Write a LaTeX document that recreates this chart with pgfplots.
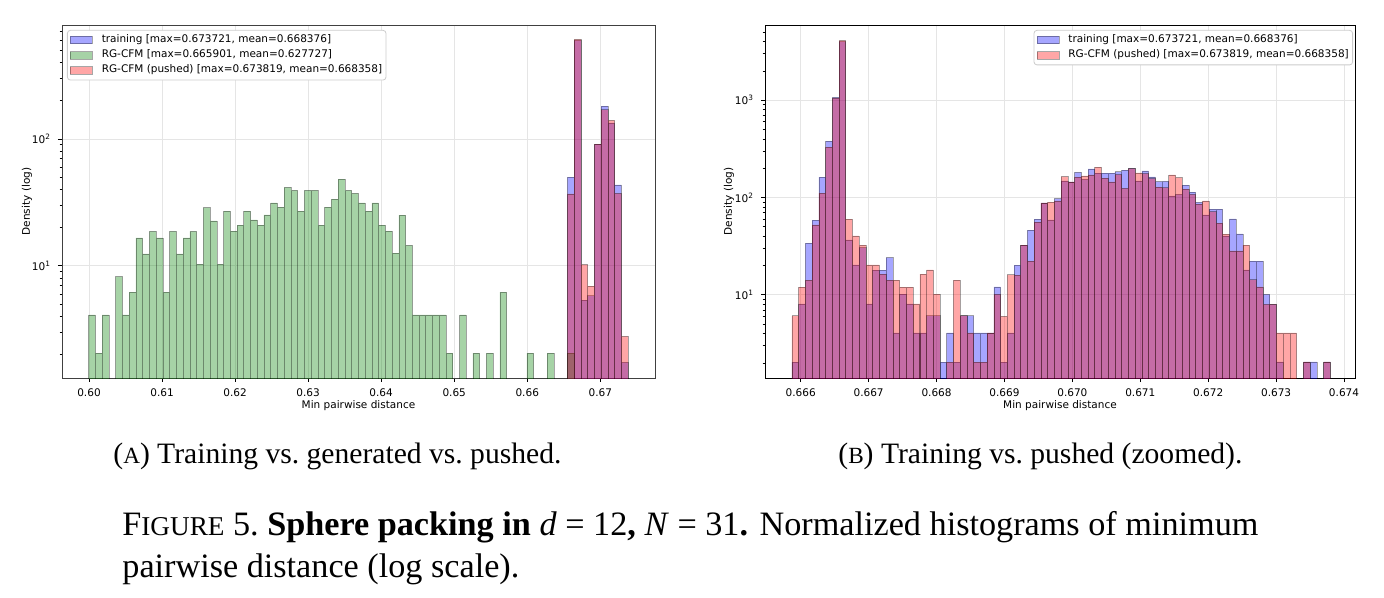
\documentclass[border=0pt]{standalone}
\usepackage{fontspec}
\setmainfont{Liberation Serif}
\newfontfamily\dejavu{DejaVu Sans}
\usepackage{pgfplots}
\usepackage{pgfplotstable}
\pgfplotsset{compat=1.18}

\newcommand{\pf}{\dejavu\fontsize{5.25}{6.3}\selectfont}

% RG-CFM samples, 80 bins over [0.59996, 0.67380]
\pgfplotstableread{
x y
0.600421 4.1
0.601344 2.05
0.602267 4.1
0.604113 8.2
0.605036 4.1
0.605959 6.2
0.606882 16.6
0.607805 12.4
0.608728 18.7
0.609651 16.6
0.610574 6.2
0.611497 18.7
0.612420 12.4
0.613343 16.6
0.614266 18.7
0.615189 10.3
0.616112 28.7
0.617035 22.6
0.617958 10.3
0.618881 27.0
0.619804 18.8
0.620727 20.9
0.621650 27.0
0.622573 23.0
0.623496 20.9
0.624419 25.2
0.625342 31.3
0.626265 29.0
0.627188 41.6
0.628111 39.4
0.629034 27.0
0.629957 39.4
0.630880 39.4
0.631803 20.9
0.632726 29.0
0.633649 33.5
0.634572 48.2
0.635495 39.4
0.636418 37.3
0.637341 31.3
0.638264 27.0
0.639187 31.3
0.640110 20.9
0.641033 18.8
0.641956 12.6
0.642879 25.1
0.643802 14.5
0.644725 4.1
0.645648 4.1
0.646571 4.1
0.647494 4.1
0.648417 4.1
0.649340 2.05
0.651186 4.1
0.653032 2.05
0.654878 2.05
0.656724 6.2
0.660416 2.05
0.663185 2.05
0.665954 2.05
}\rgcfm

% training and pushed samples on the same coarse bins
\pgfplotstableread{
x train pushed
0.665954 50.0 36.9
0.666877 600 612
0.667800 5.35 10.2
0.668723 5.8 6.9
0.669646 91 91
0.670569 182 170
0.671492 134 140
0.672415 43.5 37.2
0.673338 1.73 2.77
}\coarse

% training and pushed samples, 80 fine bins over [0.66587, 0.67380]
\pgfplotstableread{
x train pushed
0.665920 2.04 6.1
0.666019 8.1 12
0.666118 34 14.2
0.666217 58.5 52.4
0.666316 162 111
0.666415 379 329
0.666514 1070 1050
0.666613 4000 4100
0.666712 36.7 60
0.666812 20.3 40.4
0.666911 30.6 32.4
0.667010 8.1 20.3
0.667109 18 20.3
0.667208 18 16.3
0.667307 24.2 14.2
0.667406 4.07 14.2
0.667505 10.2 12
0.667604 8.1 12
0.667703 4.07 8.1
0.667803 4.07 16.3
0.667902 6.1 18.1
0.668001 6.1 10.2
0.668100 2.04 nan
0.668199 4.07 2.04
0.668298 2.04 14.2
0.668397 6.1 6.1
0.668496 6.1 4.07
0.668595 4.07 2.04
0.668694 4.07 2.04
0.668794 4.07 4.07
0.668893 12.1 10.1
0.668992 2.04 6.0
0.669091 4.07 16.1
0.669190 20.2 16
0.669289 32.4 32.4
0.669388 46.2 22.2
0.669487 60 56
0.669586 88 88
0.669685 59 90
0.669785 97.7 92.5
0.669884 148 164
0.669983 145 145
0.670082 182 162
0.670181 154 167
0.670280 197 171
0.670379 178 205
0.670478 178 158
0.670577 178 145
0.670676 184 172
0.670776 191 124
0.670875 200 198
0.670974 148 179
0.671073 188 176
0.671172 163 157
0.671271 146 128
0.671370 147 126
0.671469 104 171
0.671568 108 160
0.671667 134 122
0.671767 113.5 108
0.671866 89.5 85.5
0.671965 66.4 92.5
0.672064 75.9 71.8
0.672163 75.9 54.6
0.672262 40.4 42.1
0.672361 60.4 28.3
0.672460 42.4 28.3
0.672559 18.1 32.4
0.672658 22.2 14.3
0.672758 22.2 12.1
0.672857 10.1 8
0.672956 8 8
0.673055 2.05 4.07
0.673154 nan 4.07
0.673253 nan 4.07
0.673352 nan nan
0.673451 2.05 2.05
0.673550 2.05 nan
0.673649 nan nan
0.673749 2.05 2.05
}\fine

\pgfplotsset{
  every axis/.append style={
    scale only axis,
    tick pos=left,
    tick align=outside,
    major tick length=2pt,
    minor tick length=1.2pt,
    tick style={black, line width=0.4pt},
    tick label style={font=\pf},
    label style={font=\pf},
    grid=major,
    major grid style={black!10, line width=0.4pt},
    legend cell align=left,
    legend style={font=\pf, draw=black!20, rounded corners=1.5pt, fill=white,
      inner xsep=1.4pt, inner ysep=1.6pt, row sep=1.1pt,
      nodes={inner sep=0.5pt}},
  },
  histbar/.style={ybar, bar shift=0pt, bar width=#1, draw=black, draw opacity=0.35,
    line width=0.3pt, fill opacity=0.35,
    legend image code/.code={
      \draw[##1, sharp corners] (0pt,-1.8pt) rectangle (11pt,1.8pt);
      \path (15pt,0pt);}},
}

\begin{document}
\begin{tikzpicture}
\path[use as bounding box] (0pt,0pt) rectangle (692pt,-299pt);

\begin{axis}[
  ymode=log,
  at={(31pt,-12.5pt)}, anchor=north west,
  width=296.5pt, height=176.5pt,
  xmin=0.596303, xmax=0.677489, ymin=1.303, ymax=793,
  axis line style={black!75},
  xtick={0.60,0.61,0.62,0.63,0.64,0.65,0.66,0.67},
  xticklabels={0.60,0.61,0.62,0.63,0.64,0.65,0.66,0.67},
  ytick={10,100},
  yticklabels={10\textsuperscript{1},10\textsuperscript{2}},
  minor ytick={2,3,4,5,6,7,8,9,20,30,40,50,60,70,80,90,200,300,400,500,600,700},
  xlabel={Min pairwise distance},
  ylabel={Density (log)},
  xlabel style={at={(axis description cs:0.5,-0.0793)}, anchor=center},
  ylabel style={at={(axis description cs:-0.059,0.5)}, anchor=center},
  legend style={at={(axis description cs:0.0084,0.986)}, anchor=north west},
]
\addplot[histbar=0.000923, fill=blue] table[x=x, y=train] {\coarse};
\addlegendentry{training [max=0.673721, mean=0.668376]}
\addplot[histbar=0.000923, fill=green!50!black] table[x=x, y=y] {\rgcfm};
\addlegendentry{RG-CFM [max=0.665901, mean=0.627727]}
\addplot[histbar=0.000923, fill=red] table[x=x, y=pushed] {\coarse};
\addlegendentry{RG-CFM (pushed) [max=0.673819, mean=0.668358]}
\end{axis}

\begin{axis}[
  ymode=log,
  at={(382.5pt,-12.5pt)}, anchor=north west,
  width=295pt, height=176.5pt,
  xmin=0.665474, xmax=0.674162, ymin=1.40, ymax=5930,
  xtick={0.666,0.667,0.668,0.669,0.670,0.671,0.672,0.673,0.674},
  xticklabels={0.666,0.667,0.668,0.669,0.670,0.671,0.672,0.673,0.674},
  ytick={10,100,1000},
  yticklabels={10\textsuperscript{1},10\textsuperscript{2},10\textsuperscript{3}},
  minor ytick={2,3,4,5,6,7,8,9,20,30,40,50,60,70,80,90,200,300,400,500,600,700,800,900,2000,3000,4000,5000},
  xlabel={Min pairwise distance},
  ylabel={Density (log)},
  xlabel style={at={(axis description cs:0.5,-0.0793)}, anchor=center},
  ylabel style={at={(axis description cs:-0.061,0.5)}, anchor=center},
  legend style={at={(axis description cs:0.9966,0.986)}, anchor=north east},
]
\addplot[histbar=0.0000991, fill=blue] table[x=x, y=train] {\fine};
\addlegendentry{training [max=0.673721, mean=0.668376]}
\addplot[histbar=0.0000991, fill=red] table[x=x, y=pushed] {\fine};
\addlegendentry{RG-CFM (pushed) [max=0.673819, mean=0.668358]}
\end{axis}

% sub-captions and figure caption
\node[anchor=base west, inner sep=0pt, font=\fontsize{14.8}{17}\selectfont]
  at (56.5pt,-231.5pt) {({\fontsize{11.6}{12}\selectfont A}) Training vs.\ generated vs.\ pushed.};
\node[anchor=base west, inner sep=0pt, font=\fontsize{14.8}{17}\selectfont]
  at (419pt,-231.5pt) {({\fontsize{11.6}{12}\selectfont B}) Training vs.\ pushed (zoomed).};
\node[anchor=base west, inner sep=0pt, font=\fontsize{17.1}{20}\selectfont]
  at (61pt,-267.5pt) {\makebox[568pt][s]{F{\fontsize{13.6}{15}\selectfont IGURE} 5.\ \textbf{Sphere packing in} \textit{d} = 12\textbf{,} \textit{N} = 31\textbf{.} Normalized histograms of minimum}};
\node[anchor=base west, inner sep=0pt, font=\fontsize{17.1}{20}\selectfont]
  at (61pt,-288.5pt) {pairwise distance (log scale).};
\end{tikzpicture}
\end{document}
